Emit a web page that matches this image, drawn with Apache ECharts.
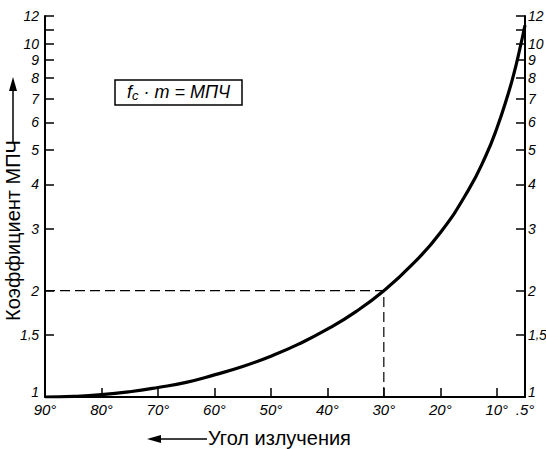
<!DOCTYPE html>
<html><head><meta charset="utf-8">
<script src="https://cdn.jsdelivr.net/npm/echarts@6/dist/echarts.min.js"></script>
<style>html,body{margin:0;padding:0;background:#fff}#c{width:546px;height:449px}</style>
</head><body><div id="c"></div>
<script>
// Radiation angle (deg) and MUF factor
const angles = [90, 85, 80, 75, 70, 65, 60, 55, 50, 45, 40, 35, 30, 25, 20, 15, 12, 10, 8, 7, 6, 5];
const factors = [1.0, 1.004, 1.015, 1.035, 1.064, 1.10, 1.155, 1.22, 1.305, 1.414, 1.556, 1.743, 2.0, 2.37, 2.92, 3.86, 4.8, 5.76, 7.2, 8.2, 9.55, 11.3];
const guideX = [90, 30, 30];
const guideY = [2, 2, 1];
const xTickValues = [90, 80, 70, 60, 50, 40, 30, 20, 10, 5];
const xTickLabels = ['90°', '80°', '70°', '60°', '50°', '40°', '30°', '20°', '10°', '.5°'];
const yTickValues = [1, 1.5, 2, 3, 4, 5, 6, 7, 8, 9, 10, 11, 12];
const yLabelValues = [1, 1.5, 2, 3, 4, 5, 6, 7, 8, 9, 10, 12];

const FF = 'Liberation Sans';
const labelFont = {fontFamily: FF, fontStyle: 'italic', fontSize: 14, color: '#000'};
function yAxisDef(pos) {
  return {
    type: 'log', logBase: 10, min: 1, max: 12, position: pos,
    axisLine: {show: true, lineStyle: {color: '#000', width: 2}},
    axisTick: {show: true, inside: true, length: 9, lineStyle: {color: '#000', width: 1.5}, customValues: yTickValues},
    axisLabel: Object.assign({show: true, margin: pos === 'left' ? 6 : 3, customValues: yLabelValues,
      formatter: v => {
        if (v === 1) return '{lo|1}';
        const s = String(+v.toFixed(2));
        return s.indexOf('.') >= 0 ? s.replace('.', '{cm|,}') : s;
      },
      rich: {
        lo: {fontFamily: FF, fontStyle: 'italic', fontSize: 14, color: '#000', padding: [0, 0, 10, 0]},
        cm: {fontFamily: FF, fontStyle: 'italic', fontSize: 12, color: '#000'}
      }
    }, labelFont),
    splitLine: {show: false}
  };
}
const chart = echarts.init(document.getElementById('c'), null, {renderer: 'svg'});
chart.setOption({
  animation: false,
  backgroundColor: '#fff',
  grid: {left: 45, right: 21, top: 16, bottom: 52, outerBoundsMode: 'none', containLabel: false},
  title: {
    left: 115, top: 78,
    text: '{f|f}{s|c}{n| · }{f|m}{n| = МПЧ}',
    borderColor: '#000', borderWidth: 1.5, padding: [3, 12, 3, 12],
    textStyle: {fontWeight: 'normal', rich: {
      f: {fontFamily: FF, fontStyle: 'italic', fontWeight: 'normal', fontSize: 18, color: '#000'},
      s: {fontFamily: FF, fontStyle: 'italic', fontWeight: 'normal', fontSize: 13, color: '#000', verticalAlign: 'bottom', padding: [8, 0, 0, 0]},
      n: {fontFamily: FF, fontStyle: 'italic', fontWeight: 'normal', fontSize: 18, color: '#000'}
    }}
  },
  xAxis: {
    type: 'value', min: 5, max: 90, inverse: true,
    axisLine: {show: true, lineStyle: {color: '#000', width: 2}},
    axisTick: {show: true, inside: true, length: 9, lineStyle: {color: '#000', width: 1.5}, customValues: xTickValues},
    axisLabel: Object.assign({show: true, margin: 5, customValues: xTickValues,
      formatter: v => xTickLabels[xTickValues.indexOf(v)]}, labelFont, {fontSize: 15}),
    splitLine: {show: false}
  },
  yAxis: [yAxisDef('left'), yAxisDef('right')],
  series: [
    {type: 'line', data: guideX.map((x, i) => [x, guideY[i]]), symbol: 'none',
     lineStyle: {color: '#000', width: 1.2, type: [10, 5]}, z: 1},
    {type: 'line', data: angles.map((a, i) => [a, factors[i]]), symbol: 'none', smooth: true,
     lineStyle: {color: '#000', width: 3.2}, z: 2}
  ],
  graphic: [
    {type: 'text', left: 208, top: 428, style: {text: 'Угол излучения', font: '20px "Liberation Sans"', fill: '#000'}},
    {type: 'line', shape: {x1: 154, y1: 439, x2: 207, y2: 439}, style: {stroke: '#000', lineWidth: 1.5}},
    {type: 'polygon', shape: {points: [[147, 439], [161, 435], [161, 443]]}, style: {fill: '#000'}},
    {type: 'text', x: 3, y: 321, rotation: Math.PI / 2, style: {text: 'Коэффициент МПЧ', font: '20px "Liberation Sans"', fill: '#000', verticalAlign: 'top'}},
    {type: 'line', shape: {x1: 13, y1: 142, x2: 13, y2: 85}, style: {stroke: '#000', lineWidth: 1.5}},
    {type: 'polygon', shape: {points: [[13, 77], [9, 91], [17, 91]]}, style: {fill: '#000'}}
  ]
});
</script></body></html>
